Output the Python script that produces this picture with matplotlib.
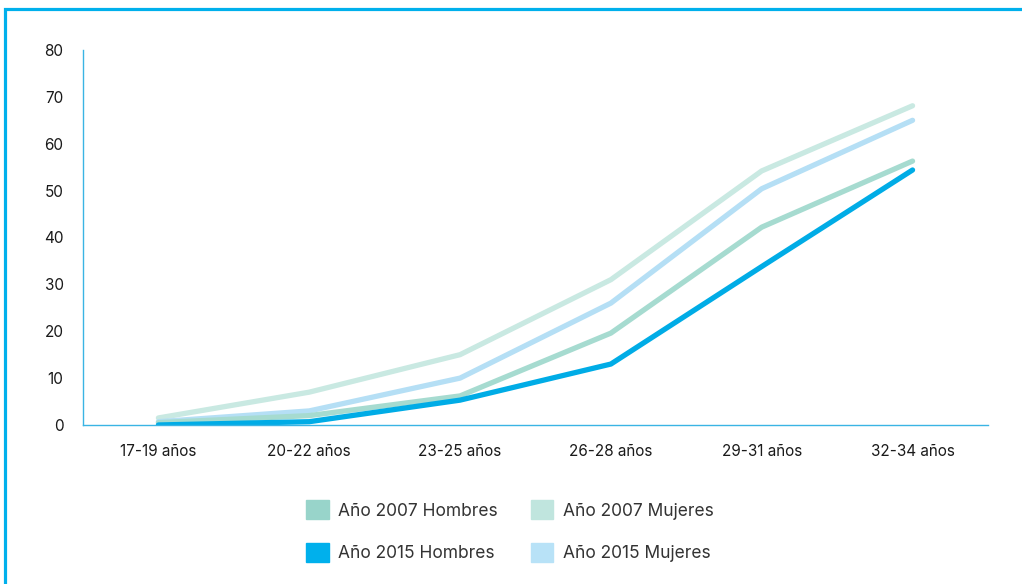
import matplotlib
matplotlib.use('Agg')
import matplotlib.pyplot as plt
from matplotlib.patches import Patch, Rectangle

# datos
grupos = ['17-19 años', '20-22 años', '23-25 años', '26-28 años', '29-31 años', '32-34 años']
hombres_2007 = [0.5, 2.0, 6.2, 19.6, 42.2, 56.3]
mujeres_2007 = [1.5, 7.0, 15.0, 31.0, 54.2, 68.1]
hombres_2015 = [0.0, 0.7, 5.3, 13.0, 33.8, 54.4]
mujeres_2015 = [0.7, 3.0, 10.0, 26.0, 50.4, 65.0]

c_h07 = '#a6dbd0'
c_m07 = '#c9e9e2'
c_h15 = '#00ace6'
c_m15 = '#b5dff5'

plt.rcParams['font.family'] = ['Inter', 'DejaVu Sans']

fig = plt.figure(figsize=(10.22, 5.84), dpi=100)
ax = fig.add_axes([0.0812, 0.2723, 0.8855, 0.6421])

x = range(len(grupos))
ax.plot(x, mujeres_2007, color=c_m07, lw=3.8, solid_capstyle='round', solid_joinstyle='round')
ax.plot(x, mujeres_2015, color=c_m15, lw=3.8, solid_capstyle='round', solid_joinstyle='round')
ax.plot(x, hombres_2007, color=c_h07, lw=3.8, solid_capstyle='round', solid_joinstyle='round')
ax.plot(x, hombres_2015, color=c_h15, lw=3.8, solid_capstyle='round', solid_joinstyle='round')

ax.set_xlim(-0.5, 5.5)
ax.set_ylim(0, 80)
ax.set_yticks(range(0, 81, 10))
ax.set_xticks(list(x))
ax.set_xticklabels(grupos)
ax.tick_params(axis='both', length=0, labelsize=11, colors='#1a1a1a')
ax.tick_params(axis='y', pad=14)
ax.tick_params(axis='x', pad=14)
for s in ['top', 'right']:
    ax.spines[s].set_visible(False)
ax.spines['left'].set_color('#3ab4e4')
ax.spines['bottom'].set_color('#3ab4e4')
ax.spines['left'].set_linewidth(1.0)
ax.spines['bottom'].set_linewidth(1.0)

handles = [Patch(color='#98d4ca', label='Año 2007 Hombres'),
           Patch(color='#00b0ec', label='Año 2015 Hombres'),
           Patch(color='#c0e5de', label='Año 2007 Mujeres'),
           Patch(color='#b8e2f7', label='Año 2015 Mujeres')]
leg = fig.legend(handles=handles, ncol=2, loc='center', bbox_to_anchor=(0.499, 0.090),
                 frameon=False, fontsize=12.5, handlelength=1.3, handleheight=1.3,
                 handletextpad=0.55, columnspacing=1.9, labelspacing=1.35, borderpad=0)
for t in leg.get_texts():
    t.set_color('#333333')

# marco azul
fig.patches.append(Rectangle((5 / 1022, -0.1), 1.2, 1.1 - 9 / 584, transform=fig.transFigure,
                             fill=False, edgecolor='#00b0ec', lw=2.3))

fig.savefig('out.png', dpi=100)
